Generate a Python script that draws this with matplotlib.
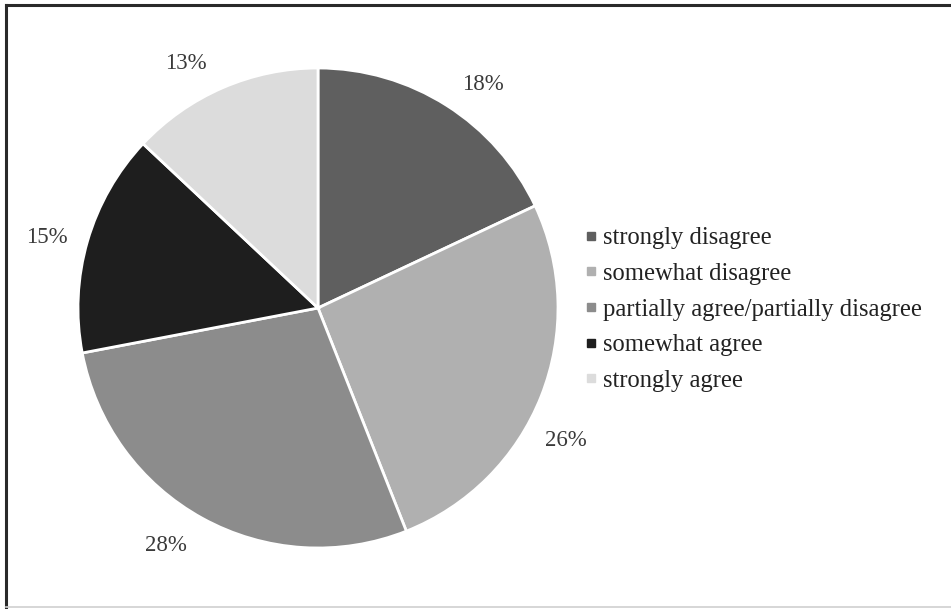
import numpy as np
import matplotlib.pyplot as plt
from matplotlib.lines import Line2D

# Survey answers and their shares (percent)
answers = ['strongly disagree', 'somewhat disagree',
           'partially agree/partially disagree', 'somewhat agree', 'strongly agree']
shares = [18, 26, 28, 15, 13]
shades = ['#5f5f5f', '#b0b0b0', '#8c8c8c', '#1e1e1e', '#dcdcdc']
# small angular nudges (degrees) for the percent labels around the rim
label_shift = [-3.7, -6.1, -4.1, 1.2, 4.8]

plt.rcParams['font.family'] = ['Liberation Serif', 'DejaVu Serif']

W, H = 951, 609
fig = plt.figure(figsize=(W / 100, H / 100), dpi=100)

# pie centred at (318, 308) px, radius 240 px
cx, cy, r, half = 318, 308, 240, 290
ax = fig.add_axes([(cx - half) / W, 1 - (cy + half) / H, 2 * half / W, 2 * half / H])
wedges, _ = ax.pie(shares, colors=shades, startangle=90, counterclock=False,
                   radius=1, wedgeprops=dict(edgecolor='white', linewidth=2))

for w, v, d in zip(wedges, shares, label_shift):
    ang = np.deg2rad((w.theta1 + w.theta2) / 2 + d)
    ax.text(1.168 * np.cos(ang), 1.168 * np.sin(ang), '%d%%' % v,
            ha='center', va='center_baseline', fontsize=16.5, color='#3a3a3a')

lim = half / r
ax.set_xlim(-lim, lim)
ax.set_ylim(-lim, lim)
ax.set_aspect('equal')
ax.axis('off')

handles = [Line2D([], [], marker='s', linestyle='none', markersize=5.8,
                  markerfacecolor=c, markeredgecolor=c) for c in shades]
fig.legend(handles, answers, loc='center left', bbox_to_anchor=(573.5 / W, 1 - 309.5 / H),
           frameon=False, fontsize=17.7, handlelength=0.6, handletextpad=0.22,
           labelspacing=0.55, borderaxespad=0, labelcolor='#222222')

# outer frame: dark top and left edges, light bottom edge
fig.add_artist(Line2D([6 / W, 6 / W], [0, 1 - 5 / H], color='#2a2a2a', lw=2.2))
fig.add_artist(Line2D([6 / W, 1], [1 - 5 / H, 1 - 5 / H], color='#2a2a2a', lw=2.2))
fig.add_artist(Line2D([6 / W, 1], [1 - 607 / H, 1 - 607 / H], color='#d0d0d0', lw=1.2))

fig.savefig('out.png', dpi=100)
